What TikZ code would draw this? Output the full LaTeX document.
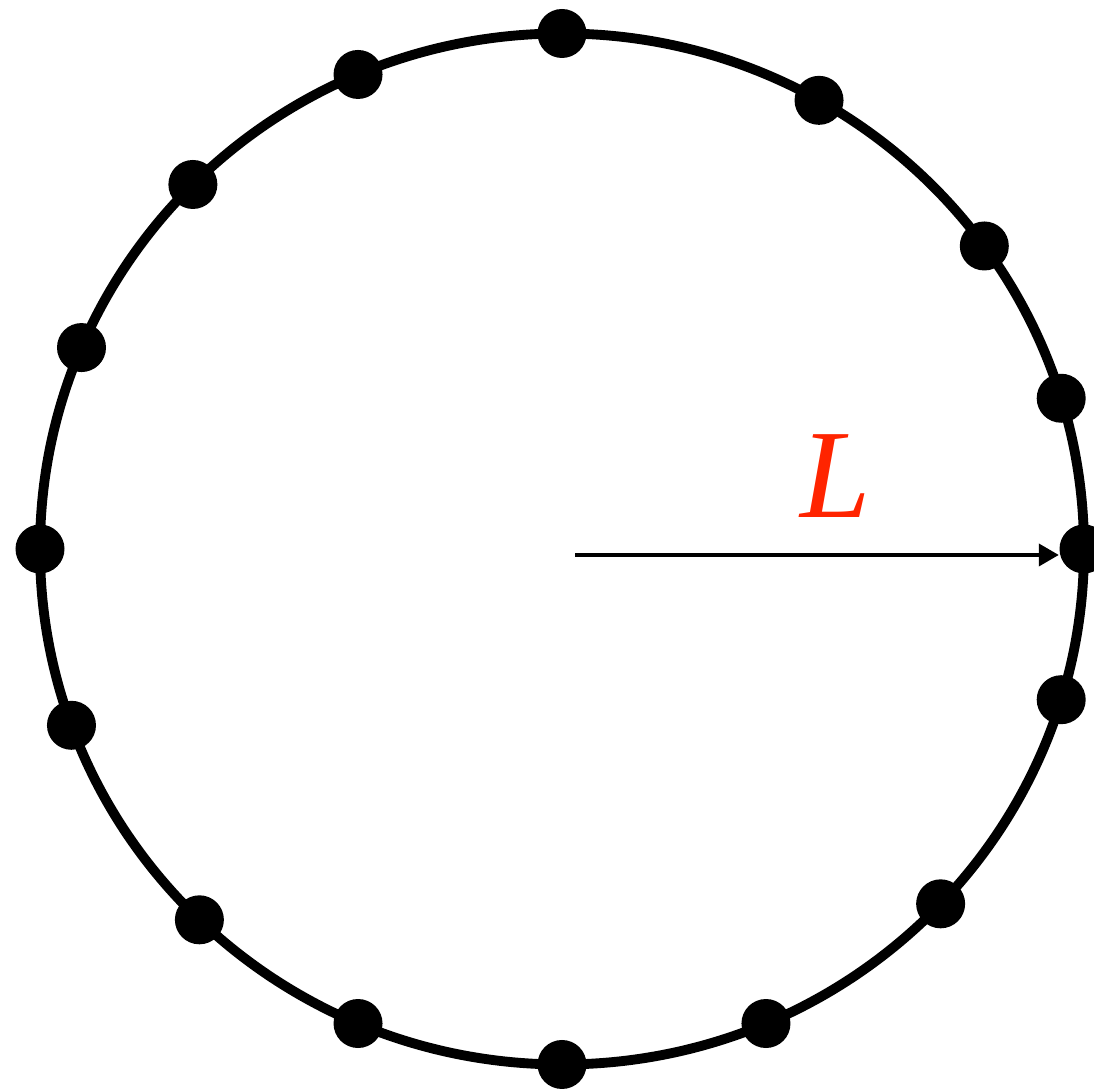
\documentclass[tikz,border=0pt]{standalone}
\usepackage{fontspec}
\newfontfamily\labelfont{Liberation Serif}
\usetikzlibrary{arrows.meta, calc}
\definecolor{lred}{RGB}{255,36,0}
\tikzset{
  ring/.style={line width=2.8pt, draw=black},
  dot/.style={circle, fill=black, inner sep=0pt, minimum size=0.49cm},
  radius line/.style={line width=1.1pt, -{Triangle[length=0.2cm, width=0.22cm]}}
}

\begin{document}
\begin{tikzpicture}
\useasboundingbox (0,0) rectangle (10.94,10.89);

% ring
\coordinate (c) at (5.62,5.40);
\draw[ring] (c) ellipse [x radius=5.22, y radius=5.155];

% points on the ring
\foreach \a [count=\i] in {90,113,135,157,180,200,226,247,270,293,316.5,343,0,17,36,60.5}
  \node[dot] (d\i) at ($(c)+(\a:5.22 and 5.155)$) {};

% radius
\coordinate (o) at (5.75,5.34);
\draw[radius line] (o) -- (o -| d13.west);
\node[text=lred, font=\labelfont\itshape\fontsize{36}{42}\selectfont] (len) at (8.36,6.13) {L};

\end{tikzpicture}
\end{document}
